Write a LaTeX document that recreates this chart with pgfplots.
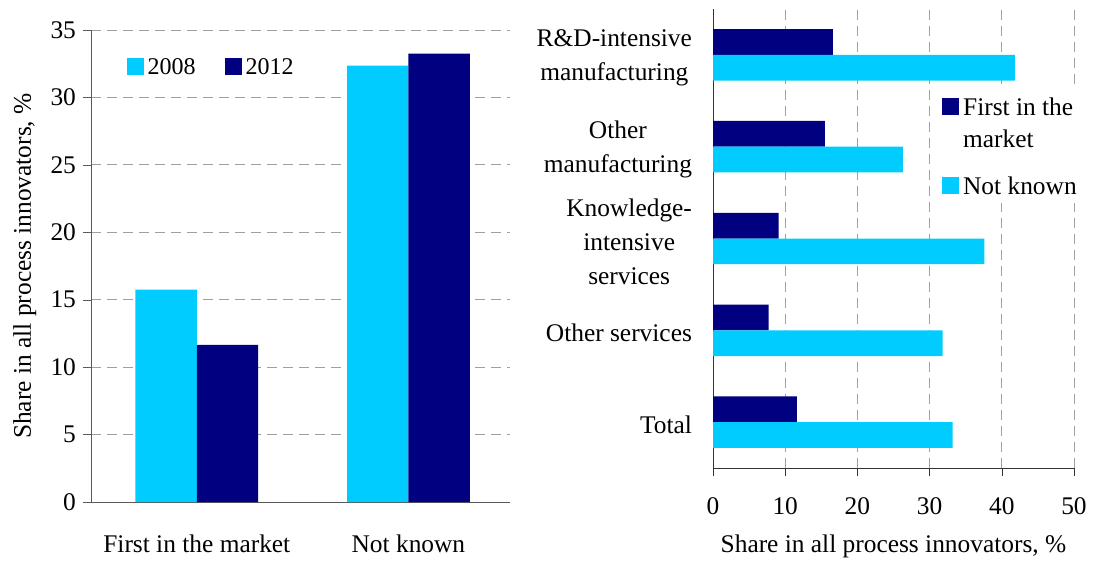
\documentclass[border=0pt]{standalone}
\usepackage{fontspec}
\setmainfont{Liberation Serif}
\usepackage{pgfplots}
\pgfplotsset{compat=1.18}
\definecolor{lightc}{HTML}{00CCFF}
\definecolor{darkc}{HTML}{000080}
\definecolor{gridc}{HTML}{A0A0A0}
\definecolor{axc}{HTML}{595959}
\begin{document}
\begin{tikzpicture}[font=\fontsize{12.7}{16}\selectfont]
\useasboundingbox (-45.5pt,-30.5pt) rectangle (501pt,251pt);
\begin{axis}[
  at={(0pt,0pt)}, anchor=south west,
  scale only axis, width=209.5pt, height=236pt,
  xmin=-0.5, xmax=1.48, ymin=0, ymax=35,
  ytick={0,5,...,35}, xtick={0,1},
  xticklabels={First in the market, Not known},
  ybar, bar width=0.29,
  ymajorgrids, grid style={gridc, dash pattern=on 5pt off 3pt},
  axis x line*=bottom, axis y line*=left,
  axis line style={axc, -},
  xtick style={draw=none},
  ytick style={axc},
  tick align=outside, major tick length=4pt,
  /pgf/number format/assume math mode=true,
  xticklabel style={yshift=-9pt},
  ylabel={Share in all process innovators, \%},
  ylabel style={at={(axis description cs:-0.158,0.5)}, anchor=center, rotate=0},
  legend columns=2,
  legend style={at={(axis description cs:0.07,0.92)}, anchor=west, draw=none, fill=none,
    font=\fontsize{12}{15}\selectfont,
    /tikz/every even column/.append style={column sep=12.5pt}},
  legend image code/.code={\fill[#1] (-2pt,-3.5pt) rectangle (6.5pt,5pt);},
]
\addplot[fill=lightc, draw=none, bar shift=-0.145] coordinates {(0,15.75) (1,32.35)};
\addlegendentry{2008}
\addplot[fill=darkc, draw=none, bar shift=0.145] coordinates {(0,11.65) (1,33.25)};
\addlegendentry{2012}
\end{axis}

\begin{axis}[
  at={(311pt,17pt)}, anchor=south west,
  scale only axis, width=180.5pt, height=229.5pt,
  xmin=0, xmax=50, ymin=-0.5, ymax=4.5,
  xtick={0,10,...,50}, ytick={0,1,2,3,4},
  yticklabels={Total, Other services, {Knowledge-\\intensive\\services}, {Other\\manufacturing}, {R\&D-intensive\\manufacturing}},
  yticklabel style={align=center, xshift=-3pt, yshift=-1.5pt, font=\fontsize{12.7}{17}\selectfont},
  xbar, bar width=0.28,
  xmajorgrids, grid style={gridc, dash pattern=on 5pt off 3pt},
  axis x line*=bottom, axis y line*=left,
  axis line style={black!80, -},
  ytick style={draw=none},
  xtick style={black!80},
  tick align=outside, major tick length=4pt,
  /pgf/number format/assume math mode=true,
  xticklabel style={yshift=-7.5pt},
  xlabel={Share in all process innovators, \%},
  xlabel style={yshift=-3pt},
  legend style={at={(axis description cs:0.617,0.835)}, anchor=north west, draw=none, fill=white,
    row sep=6pt, cells={anchor=base west}, nodes={text depth=}},
  legend image code/.code={\fill[#1] (-2.5pt,0.2pt) rectangle (6pt,8.7pt);},
]
\addplot[fill=darkc, draw=none, bar shift=0.14] coordinates {(11.6,0) (7.7,1) (9.1,2) (15.5,3) (16.6,4)};
\addlegendentry{\begin{tabular}[t]{@{}l@{}}First in the\\market\end{tabular}}
\addplot[fill=lightc, draw=none, bar shift=-0.14] coordinates {(33.2,0) (31.8,1) (37.6,2) (26.3,3) (41.8,4)};
\addlegendentry{Not known}
\end{axis}
\end{tikzpicture}
\end{document}
